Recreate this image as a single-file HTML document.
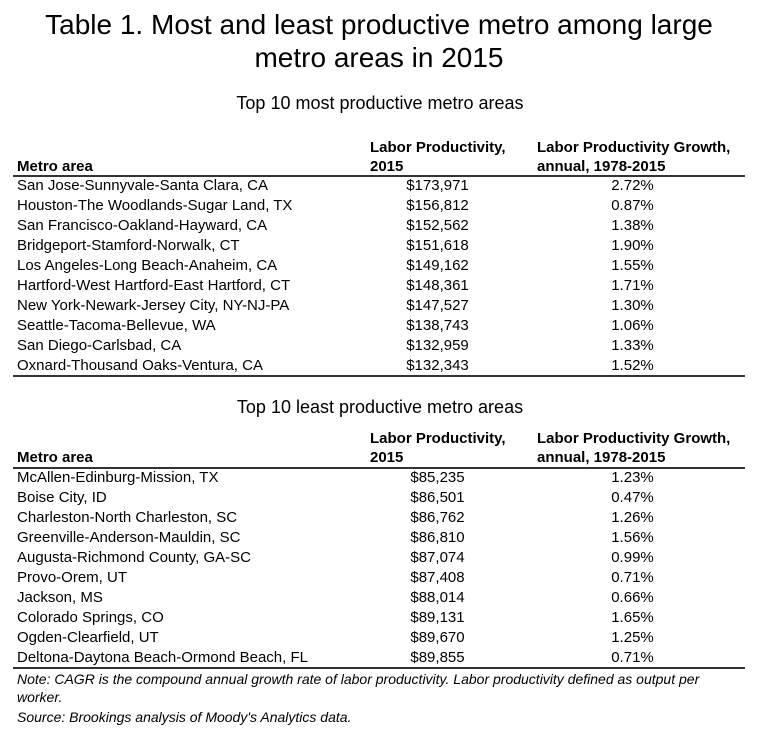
<!DOCTYPE html>
<html><head><meta charset="utf-8"><style>
body{margin:0;width:768px;height:729px;background:#fff;font-family:"Liberation Sans",Arial,sans-serif;color:#000;position:relative;overflow:hidden}
.a{position:absolute;white-space:nowrap}
.t{left:0;width:758px;text-align:center;font-size:28px;line-height:33px}
.s{left:0;width:760px;text-align:center;font-size:18px;line-height:22px}
.h{font-size:15px;font-weight:bold;line-height:19px}
.r{font-size:15px;line-height:20px}
.ln{position:absolute;left:13px;width:732px;height:2px;background:#333}
.c1{left:17px}.c2{left:350px;width:175px;text-align:center}.c3{left:535px;width:195px;text-align:center}
.n{font-size:14px;font-style:italic;left:17px;line-height:18px}
</style></head><body>
<div class="a t" style="top:8px">Table 1. Most and least productive metro among large<br>metro areas in 2015</div>
<div id="tables"></div>
<div class="a n" style="top:670px">Note: CAGR is the compound annual growth rate of labor productivity. Labor productivity defined as output per<br>worker.</div>
<div class="a n" style="top:708px">Source: Brookings analysis of Moody's Analytics data.</div>
<script>
const topNames=["San Jose-Sunnyvale-Santa Clara, CA","Houston-The Woodlands-Sugar Land, TX","San Francisco-Oakland-Hayward, CA","Bridgeport-Stamford-Norwalk, CT","Los Angeles-Long Beach-Anaheim, CA","Hartford-West Hartford-East Hartford, CT","New York-Newark-Jersey City, NY-NJ-PA","Seattle-Tacoma-Bellevue, WA","San Diego-Carlsbad, CA","Oxnard-Thousand Oaks-Ventura, CA"];
const topProd=["$173,971","$156,812","$152,562","$151,618","$149,162","$148,361","$147,527","$138,743","$132,959","$132,343"];
const topGrowth=["2.72%","0.87%","1.38%","1.90%","1.55%","1.71%","1.30%","1.06%","1.33%","1.52%"];
const lowNames=["McAllen-Edinburg-Mission, TX","Boise City, ID","Charleston-North Charleston, SC","Greenville-Anderson-Mauldin, SC","Augusta-Richmond County, GA-SC","Provo-Orem, UT","Jackson, MS","Colorado Springs, CO","Ogden-Clearfield, UT","Deltona-Daytona Beach-Ormond Beach, FL"];
const lowProd=["$85,235","$86,501","$86,762","$86,810","$87,074","$87,408","$88,014","$89,131","$89,670","$89,855"];
const lowGrowth=["1.23%","0.47%","1.26%","1.56%","0.99%","0.71%","0.66%","1.65%","1.25%","0.71%"];
const root=document.getElementById('tables');
function el(cls,top,html,name){const d=document.createElement('div');d.className='a '+cls;d.style.top=top+'px';d.innerHTML=html;


root.appendChild(d);return d;}
function table(subY,hdrY,ruleY,names,prod,growth,key,title){
 el('s',subY-11,title,key+'-subtitle');
 el('h c1',hdrY+19-9.5,'Metro area',key+'-header-metro');
 const h2=el('h',hdrY-9.5,'Labor Productivity,<br>2015',key+'-header-productivity');h2.style.left='370px';
 const h3=el('h',hdrY-9.5,'Labor Productivity Growth,<br>annual, 1978-2015',key+'-header-growth');h3.style.left='537px';
 el('ln',ruleY-1,'',key+'-header-rule');
 for(let i=0;i<names.length;i++){
  const y=ruleY+10+i*20-10;
  el('r c1',y,names[i],key+'-row-name');
  el('r c2',y,prod[i],key+'-row-productivity');
  el('r c3',y,growth[i],key+'-row-growth');
 }
 el('ln',ruleY+names.length*20-1,'',key+'-bottom-rule');
}
table(103,147,176,topNames,topProd,topGrowth,'most','Top 10 most productive metro areas');
table(407,438,468,lowNames,lowProd,lowGrowth,'least','Top 10 least productive metro areas');
</script>
</body></html>
